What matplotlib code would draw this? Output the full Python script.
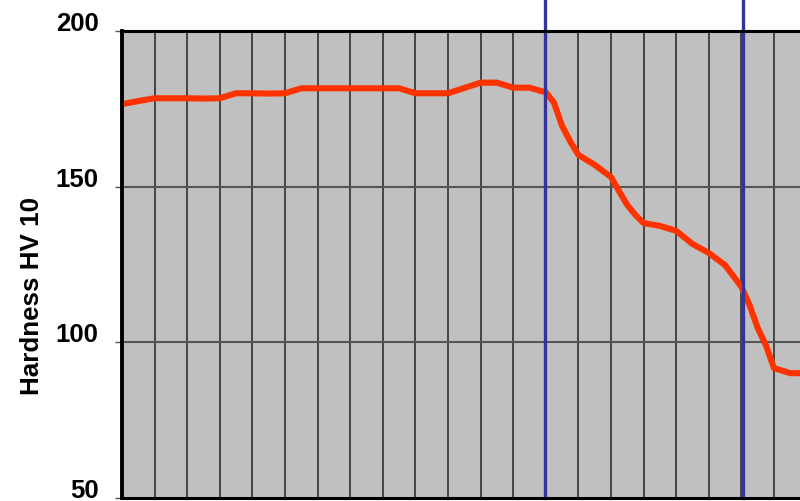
import matplotlib
matplotlib.use("Agg")
import matplotlib.pyplot as plt

# hardness profile (x in grid steps)
positions = [0, 0.5, 1, 1.5, 2, 2.5, 3, 3.5, 4, 4.5,
             5, 5.5, 6, 6.5, 7, 7.5, 8, 8.5, 9, 9.5,
             10, 10.5, 11, 11.5, 12, 12.5, 13, 13.25, 13.5, 13.75,
             14, 14.5, 15, 15.25, 15.5, 15.75, 16, 16.5, 17, 17.5,
             18, 18.5, 19, 19.25, 19.5, 19.75, 20, 20.5, 21]
hardness = [176.5, 177.5, 178.4, 178.4, 178.4, 178.3, 178.4, 180.0, 180.0, 179.9,
            180.0, 181.6, 181.6, 181.6, 181.6, 181.6, 181.6, 181.6, 180.0, 180.0,
            180.0, 181.7, 183.4, 183.4, 181.8, 181.8, 180.3, 177.0, 169.5, 164.5,
            160.2, 157.0, 153.1, 148.5, 144.1, 140.9, 138.3, 137.4, 135.8, 131.6,
            128.7, 124.8, 117.8, 112.0, 104.6, 99.1, 91.7, 90.1, 90.1]
boundaries = [12.97, 19.05]
yticks = [50, 100, 150, 200]
ylabel = "Hardness HV 10"

plt.rcParams['font.family'] = ['Liberation Sans', 'DejaVu Sans']

fig = plt.figure(figsize=(8, 5.01), dpi=100)
ax = fig.add_axes([122 / 800, 3 / 501, 684.6 / 800, 467 / 501])
ax.set_facecolor('#C0C0C0')
ax.set_xlim(0, 21)
ax.set_ylim(50, 200)

for gx in range(1, 22):
	ax.axvline(gx, color='#3a3a3a', lw=1.3, zorder=1)
for gy in [100, 150]:
	ax.axhline(gy, color='#555555', lw=1.5, zorder=1)

ax.plot(positions, hardness, color='#FF3300', lw=4.4, solid_joinstyle='round', zorder=3)

for b in boundaries:
	ax.axvline(b, ymin=0, ymax=1.07, color='#333399', lw=2.4, clip_on=False, zorder=4)

ax.set_xticks([])
ax.set_yticks(yticks)
ax.set_yticklabels([str(t) for t in yticks], fontsize=18.5, fontweight='bold')
for lab in ax.get_yticklabels():
	lab.set_verticalalignment('baseline')
ax.tick_params(axis='y', direction='out', length=5, width=1, color='#555555', pad=12)

ax.set_ylabel(ylabel, fontsize=18.7, fontweight='bold', va='center')
ax.yaxis.set_label_coords((32 - 122) / 684.6, (498 - 296) / 467)

ax.spines['left'].set_linewidth(2.8)
ax.spines['top'].set_linewidth(2.2)
ax.spines['bottom'].set_linewidth(2.2)
ax.spines['right'].set_visible(False)
for s in ax.spines.values():
	s.set_color('black')
	s.set_zorder(5)

fig.savefig('out.png', dpi=100)
